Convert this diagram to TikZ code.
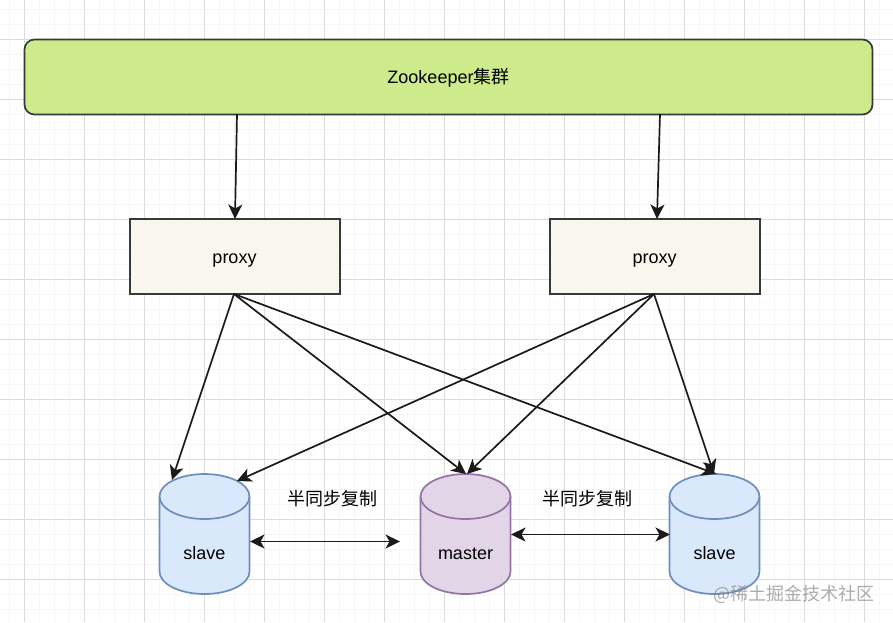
\documentclass[tikz,border=0pt]{standalone}
\usepackage{fontspec}
\setmainfont{Liberation Sans}
\newfontfamily\cjk{Noto Sans CJK SC}
\usetikzlibrary{arrows.meta}
\definecolor{gridmajor}{HTML}{DCDCDC}
\definecolor{gridminor}{HTML}{F6F6F6}
\definecolor{zkfill}{HTML}{CDEB8B}
\definecolor{boxline}{HTML}{36393D}
\definecolor{proxyfill}{HTML}{F9F7ED}
\definecolor{bluefill}{HTML}{DAE8FC}
\definecolor{blueline}{HTML}{6C8EBF}
\definecolor{purplefill}{HTML}{E1D5E7}
\definecolor{purpleline}{HTML}{9673A6}
\definecolor{ink}{HTML}{1A1A1A}
\tikzset{
  x=1pt,y=-1pt,
  lbl/.style={font=\fontsize{18}{20}\selectfont,text=black,inner sep=0pt},
  boxstyle/.style={draw=boxline,line width=1.7pt,minimum height=75pt,anchor=north west,inner sep=0pt},
  zkbox/.style={boxstyle,fill=zkfill,rounded corners=10pt,minimum width=848pt},
  proxybox/.style={boxstyle,line width=2pt,fill=proxyfill,minimum width=209.7pt},
  link/.style={draw=ink,line width=1.7pt,-{Stealth[length=14.5pt,width=14pt,inset=4pt]}},
  duallink/.style={draw=ink,line width=1.7pt,{Stealth[length=14.5pt,width=14pt,inset=4pt]}-{Stealth[length=14.5pt,width=14pt,inset=4pt]}},
  cylbody/.style={line width=1.7pt},
}
\newcommand{\cylinderat}[6]{% name, centre x, fill, line, label, label y
  \filldraw[cylbody,fill=#3,draw=#4] (#2-45,496.5)
     arc[start angle=180,end angle=0,x radius=45pt,y radius=22.5pt]
     -- (#2+45,571.5)
     arc[start angle=0,end angle=-180,x radius=45pt,y radius=22.5pt] -- cycle;
  \draw[cylbody,draw=#4] (#2-45,496.5)
     arc[start angle=180,end angle=360,x radius=45pt,y radius=22.5pt];
  \node[lbl] (#1) at (#2,#6) {#5};
}
\begin{document}
\begin{tikzpicture}
\useasboundingbox (0,0) rectangle (893,622);
\fill[white] (0,0) rectangle (893,622);
% grid
\foreach \i in {0,...,59}{\draw[gridminor,line width=1pt] ({9.5+15*\i},0) -- ({9.5+15*\i},622);}
\foreach \i in {0,...,41}{\draw[gridminor,line width=1pt] (0,{9.5+15*\i}) -- (893,{9.5+15*\i});}
\foreach \i in {0,...,14}{\draw[gridmajor,line width=1pt] ({24.5+60*\i},0) -- ({24.5+60*\i},622);}
\foreach \i in {0,...,9}{\draw[gridmajor,line width=1pt] (0,{39.5+60*\i}) -- (893,{39.5+60*\i});}
% boxes
\node[zkbox] (zk) at (23.65,38.65) {};
\node[lbl] (zklabel) at (448.5,78) {Zookeeper{\cjk 集群}};
\node[proxybox] (p1) at (129.4,218.4) {};
\node[lbl] (p1label) at (234.5,261) {proxy};
\node[proxybox] (p2) at (549.4,218.4) {};
\node[lbl] (p2label) at (654.5,261) {proxy};
% cylinders
\cylinderat{s1}{204.5}{bluefill}{blueline}{slave}{553}
\cylinderat{m}{465.5}{purplefill}{purpleline}{master}{553.5}
\cylinderat{s2}{714.5}{bluefill}{blueline}{slave}{553}
% connector ends
\coordinate (zk1) at (237,114);
\coordinate (zk2) at (660,114);
\coordinate (p1in) at (235,219);
\coordinate (p2in) at (657,219);
\coordinate (p1out) at (234,294);
\coordinate (p2out) at (654,294);
\coordinate (s1a) at (172,480);
\coordinate (s1b) at (237,481);
\coordinate (ma) at (466,474);
\coordinate (mb) at (467,474);
\coordinate (s2a) at (716,474);
\coordinate (s2b) at (714,474);
\coordinate (r1a) at (250,541.5);
\coordinate (r1b) at (400,541.5);
\coordinate (r2a) at (511,534.5);
\coordinate (r2b) at (670,534.5);
\draw[link] (zk1) -- (p1in);
\draw[link] (zk2) -- (p2in);
\draw[link] (p1out) -- (s1a);
\draw[link] (p1out) -- (ma);
\draw[link] (p1out) -- (s2a);
\draw[link] (p2out) -- (s1b);
\draw[link] (p2out) -- (mb);
\draw[link] (p2out) -- (s2b);
\draw[duallink] (r1a) -- (r1b);
\draw[duallink] (r2a) -- (r2b);
% labels
\node[lbl,font=\fontsize{18}{20}\selectfont\cjk] (t1) at (332,498.5) {半同步复制};
\node[lbl,font=\fontsize{18}{20}\selectfont\cjk] (t2) at (587,498.5) {半同步复制};
\node[lbl,anchor=east,text=gray,text opacity=0.65,font=\fontsize{18}{20}\selectfont\cjk] (wm) at (875,594) {@稀土掘金技术社区};
\end{tikzpicture}
\end{document}
